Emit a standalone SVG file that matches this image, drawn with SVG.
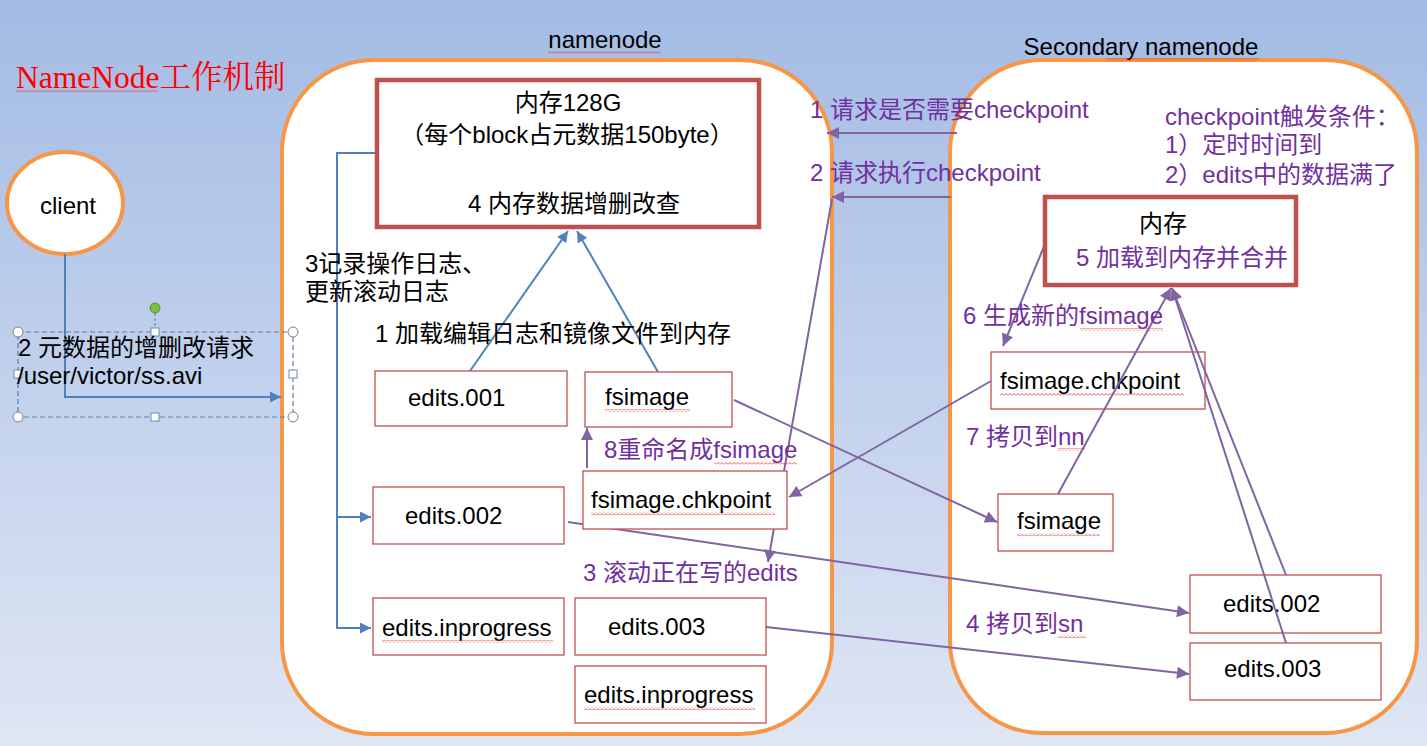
<svg xmlns="http://www.w3.org/2000/svg" width="1427" height="746" viewBox="0 0 1427 746">
<defs>
<linearGradient id="bg" x1="0" y1="0" x2="0" y2="1">
<stop offset="0" stop-color="#a3bbe4"/>
<stop offset="1" stop-color="#dfe6f4"/>
</linearGradient>
<marker id="ab" viewBox="0 0 10 10" refX="10" refY="5" markerWidth="12" markerHeight="11" markerUnits="userSpaceOnUse" orient="auto"><path d="M0,0 L10,5 L0,10 Z" fill="#4f81bd"/></marker>
<marker id="ap" viewBox="0 0 10 10" refX="10" refY="5" markerWidth="14" markerHeight="12" markerUnits="userSpaceOnUse" orient="auto"><path d="M0,0 L10,5 L0,10 Z" fill="#8064a2"/></marker>
<pattern id="sq" width="4" height="3" patternUnits="userSpaceOnUse"><path d="M0,2.5 L2,0.5 L4,2.5" fill="none" stroke="#e03030" stroke-width="0.8"/></pattern>
</defs>
<style>
.t{font-family:"Liberation Sans","Noto Sans CJK SC",sans-serif;font-size:24px;fill:#000}
.p{font-family:"Liberation Sans","Noto Sans CJK SC",sans-serif;font-size:24px;fill:#7030a0}
.c{text-anchor:middle}
.cont{fill:#fff;stroke:#f79646;stroke-width:4}
.mem{fill:#fff;stroke:#c0504d;stroke-width:4.5}
.box{fill:#fff;stroke:#c0504d;stroke-width:1.3}
.bl{fill:none;stroke:#4f81bd;stroke-width:2}
.pl{fill:none;stroke:#8064a2;stroke-width:2}
.h{fill:#fff;stroke:#7f7f7f;stroke-width:1}
.hs{fill:#fff;stroke:#6d89b8;stroke-width:1}
.sq{fill:url(#sq)}
</style>
<rect x="0" y="0" width="1427" height="746" fill="url(#bg)"/>

<g id="title">
<text x="16" y="88" style="font-family:'Liberation Serif','Noto Serif CJK SC','Noto Sans CJK SC',serif;font-size:31.5px;fill:#ff0000">NameNode工作机制</text>
<rect class="sq" x="16" y="89" width="142" height="3"/>
</g>

<g id="namenode">
<rect class="cont" x="282" y="60" width="550" height="674" rx="92" ry="92"/>
<text class="t c" x="605" y="48">namenode</text>
<rect class="sq" x="548" y="51" width="113" height="3"/>
</g>

<g id="secondary-namenode">
<rect class="cont" x="950" y="60" width="467" height="673" rx="92" ry="92"/>
<text class="t c" x="1141" y="55">Secondary namenode</text>
<rect class="sq" x="1106" y="58" width="152" height="3"/>
</g>

<g id="client">
<ellipse cx="65" cy="203" rx="58" ry="51" fill="#fff" stroke="#f79646" stroke-width="4"/>
<text class="t c" x="68" y="214">client</text>
</g>

<g id="sn-fsimage-chkpoint">
<rect class="box" x="991" y="352" width="214" height="57"/>
<text class="t" x="1000" y="389">fsimage.chkpoint</text>
<rect class="sq" x="1000" y="393" width="184" height="3"/>
</g>

<g id="sn-edits-002">
<rect class="box" x="1190" y="575" width="191" height="58"/>
<text class="t" x="1223" y="612">edits.002</text>
</g>

<g id="connectors">
<path class="bl" d="M65,254 V397 H281" marker-end="url(#ab)"/>
<path class="bl" d="M377,153 H337 V628 H371" marker-end="url(#ab)"/>
<path class="bl" d="M337,517 H371" marker-end="url(#ab)"/>
<path class="bl" d="M470,371 L568,231" marker-end="url(#ab)"/>
<path class="bl" d="M658,372 L577,231" marker-end="url(#ab)"/>
<path class="pl" d="M957,133 L827,133" marker-end="url(#ap)"/>
<path class="pl" d="M951,197 L832,197" marker-end="url(#ap)"/>
<path class="pl" d="M832,199 L768,562" marker-end="url(#ap)"/>
<path class="pl" d="M1045,244 L1003,346" marker-end="url(#ap)"/>
<path class="pl" d="M991,381 L789,497" marker-end="url(#ap)"/>
<path class="pl" d="M734,400 L997,522" marker-end="url(#ap)"/>
<path class="pl" d="M1058,494 L1171,288" marker-end="url(#ap)"/>
<path class="pl" d="M1286,575 L1172,288" marker-end="url(#ap)"/>
<path class="pl" d="M1286,643 L1172,288" marker-end="url(#ap)"/>
<path class="pl" d="M568,522 L1189,613" marker-end="url(#ap)"/>
<path class="pl" d="M766,627 L1189,674" marker-end="url(#ap)"/>
<path class="pl" d="M587,468 V428" marker-end="url(#ap)"/>
</g>

<g id="selection">
<rect x="18" y="332" width="275" height="85" fill="none" stroke="#5a7fb0" stroke-width="1.2" stroke-dasharray="5,3"/>
<line x1="155" y1="313" x2="155" y2="328" stroke="#5a7fb0" stroke-width="1" stroke-dasharray="3,2"/>
<circle cx="155" cy="308" r="5" fill="#7ac142" stroke="#5b8c3a" stroke-width="1"/>
<circle class="h" cx="18" cy="332" r="5"/>
<circle class="h" cx="293" cy="332" r="5"/>
<circle class="h" cx="18" cy="417" r="5"/>
<circle class="h" cx="293" cy="417" r="5"/>
<rect class="hs" x="151" y="328" width="8" height="8"/>
<rect class="hs" x="151" y="413" width="8" height="8"/>
<rect class="hs" x="14" y="370" width="8" height="8"/>
<rect class="hs" x="289" y="370" width="8" height="8"/>
</g>

<g id="request-label">
<text class="t" x="18" y="356">2 元数据的增删改请求</text>
<text class="t" x="17" y="384">/user/victor/ss.avi</text>
</g>

<g id="nn-memory">
<rect class="mem" x="377" y="80" width="382" height="147"/>
<text class="t c" x="568" y="111">内存128G</text>
<text class="t c" x="567" y="143">（每个block占元数据150byte）</text>
<text class="t c" x="574" y="212">4 内存数据增删改查</text>
</g>

<g id="nn-labels">
<text class="t" x="305" y="272">3记录操作日志、</text>
<text class="t" x="305" y="300">更新滚动日志</text>
<text class="t" x="375" y="342">1 加载编辑日志和镜像文件到内存</text>
</g>

<g id="nn-edits-001">
<rect class="box" x="375" y="371" width="192" height="55"/>
<text class="t" x="408" y="406">edits.001</text>
</g>

<g id="nn-fsimage">
<rect class="box" x="585" y="372" width="147" height="55"/>
<text class="t" x="605" y="405">fsimage</text>
<rect class="sq" x="605" y="409" width="85" height="3"/>
</g>

<g id="nn-fsimage-chkpoint">
<rect class="box" x="583" y="471" width="204" height="58"/>
<text class="t" x="591" y="508">fsimage.chkpoint</text>
<rect class="sq" x="591" y="512" width="184" height="3"/>
</g>

<g id="nn-edits-002">
<rect class="box" x="373" y="487" width="191" height="57"/>
<text class="t" x="405" y="524">edits.002</text>
</g>

<g id="nn-edits-inprogress">
<rect class="box" x="373" y="598" width="191" height="57"/>
<text class="t" x="382" y="636">edits.inprogress</text>
<rect class="sq" x="382" y="640" width="171" height="3"/>
</g>

<g id="nn-edits-003">
<rect class="box" x="575" y="598" width="191" height="57"/>
<text class="t" x="608" y="635">edits.003</text>
</g>

<g id="nn-edits-inprogress-2">
<rect class="box" x="575" y="666" width="191" height="57"/>
<text class="t" x="584" y="703">edits.inprogress</text>
<rect class="sq" x="584" y="707" width="171" height="3"/>
</g>

<g id="nn-purple-labels">
<text class="p" x="604" y="458">8重命名成fsimage</text>
<rect class="sq" x="714" y="462" width="83" height="3"/>
<text class="p" x="583" y="581">3 滚动正在写的edits</text>
</g>

<g id="rpc-labels">
<text class="p" x="810" y="118">1 请求是否需要checkpoint</text>
<text class="p" x="810" y="181">2 请求执行checkpoint</text>
</g>

<g id="checkpoint-conditions">
<text class="p" x="1165" y="125">checkpoint触发条件：</text>
<text class="p" x="1165" y="153">1）定时时间到</text>
<text class="p" x="1165" y="183">2）edits中的数据满了</text>
</g>

<g id="sn-memory">
<rect class="mem" x="1045" y="197" width="251" height="88"/>
<text class="t c" x="1163" y="232">内存</text>
<text class="p" x="1076" y="266">5 加载到内存并合并</text>
</g>

<g id="sn-fsimage">
<rect class="box" x="998" y="494" width="115" height="57"/>
<text class="t" x="1017" y="529">fsimage</text>
<rect class="sq" x="1017" y="533" width="83" height="3"/>
</g>

<g id="sn-edits-003">
<rect class="box" x="1190" y="643" width="191" height="57"/>
<text class="t" x="1224" y="677">edits.003</text>
</g>

<g id="sn-labels">
<text class="p" x="963" y="324">6 生成新的fsimage</text>
<rect class="sq" x="1080" y="328" width="83" height="3"/>
<text class="p" x="966" y="445">7 拷贝到nn</text>
<rect class="sq" x="1058" y="448" width="27" height="3"/>
<text class="p" x="966" y="632">4 拷贝到sn</text>
<rect class="sq" x="1058" y="635" width="28" height="3"/>
</g>
</svg>
